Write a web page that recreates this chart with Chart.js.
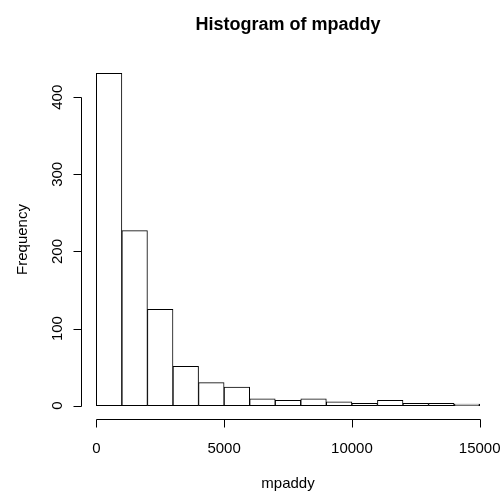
<!DOCTYPE html>
<html>
<head>
<meta charset="utf-8">
<script src="https://cdn.jsdelivr.net/npm/chart.js@4"></script>
<style>
  html, body { margin: 0; padding: 0; background: #ffffff; }
  #wrap { width: 502px; height: 492px; }
</style>
</head>
<body>
<div id="wrap"><canvas id="c" width="502" height="492"></canvas></div>
<script>
// Data
const binStarts = [0, 1000, 2000, 3000, 4000, 5000, 6000, 7000, 8000, 9000, 10000, 11000, 12000, 13000, 14000];
const binWidth = 1000;
const counts = [431, 227, 125, 51, 30, 24, 9, 7, 9, 5, 3, 7, 3, 3, 2];
const xTicks = [0, 5000, 10000, 15000];
const yTicks = [0, 100, 200, 300, 400];
const titleText = 'Histogram of mpaddy';
const xLabel = 'mpaddy';
const yLabel = 'Frequency';

const xMinData = binStarts[0];
const xMaxData = binStarts[binStarts.length - 1] + binWidth;
const yMaxData = Math.max(...counts);
const xPad = (xMaxData - xMinData) * 0.04;
const yPad = yMaxData * 0.04;

const barData = binStarts.map((s, i) => ({ x: s + binWidth / 2, y: counts[i] }));

const FONT = '"Liberation Sans", Arial, Helvetica, sans-serif';

const rAxes = {
  id: 'rAxes',
  afterDraw(chart) {
    const ctx = chart.ctx;
    const xs = chart.scales.x, ys = chart.scales.y;
    const area = chart.chartArea;
    ctx.save();
    ctx.strokeStyle = '#000';
    ctx.fillStyle = '#000';
    ctx.lineWidth = 1;
    // x axis
    const axY = Math.round(area.bottom) + 0.5;
    const x0 = Math.round(xs.getPixelForValue(xTicks[0])) + 0.5;
    const x1 = Math.round(xs.getPixelForValue(xTicks[xTicks.length - 1])) + 0.5;
    ctx.beginPath();
    ctx.moveTo(x0, axY); ctx.lineTo(x1, axY);
    xTicks.forEach(t => { const p = Math.round(xs.getPixelForValue(t)) + 0.5; ctx.moveTo(p, axY); ctx.lineTo(p, axY + 8); });
    ctx.stroke();
    ctx.font = '15px ' + FONT;
    ctx.textAlign = 'center';
    ctx.textBaseline = 'alphabetic';
    xTicks.forEach(t => ctx.fillText(String(t), xs.getPixelForValue(t), axY + 33.5));
    ctx.fillText(xLabel, (area.left + area.right) / 2, axY + 68.5);
    // y axis
    const axX = Math.round(area.left) + 0.5;
    const y0 = Math.round(ys.getPixelForValue(yTicks[0])) + 0.5;
    const y1 = Math.round(ys.getPixelForValue(yTicks[yTicks.length - 1])) + 0.5;
    ctx.beginPath();
    ctx.moveTo(axX, y0); ctx.lineTo(axX, y1);
    yTicks.forEach(t => { const p = Math.round(ys.getPixelForValue(t)) + 0.5; ctx.moveTo(axX, p); ctx.lineTo(axX - 8, p); });
    ctx.stroke();
    yTicks.forEach(t => {
      ctx.save();
      ctx.translate(axX - 19.5, ys.getPixelForValue(t));
      ctx.rotate(-Math.PI / 2);
      ctx.fillText(String(t), 0, 0);
      ctx.restore();
    });
    ctx.save();
    ctx.translate(axX - 55, (area.top + area.bottom) / 2);
    ctx.rotate(-Math.PI / 2);
    ctx.fillText(yLabel, 0, 0);
    ctx.restore();
    // title
    ctx.font = 'bold 18px ' + FONT;
    ctx.fillText(titleText, (area.left + area.right) / 2, 30);
    ctx.restore();
  }
};

new Chart(document.getElementById('c'), {
  type: 'bar',
  data: {
    datasets: [{
      label: yLabel,
      data: barData,
      backgroundColor: '#ffffff',
      borderColor: '#000000',
      borderWidth: 1,
      borderSkipped: false,
      barPercentage: 1.0,
      categoryPercentage: 1.0
    }]
  },
  options: {
    responsive: false,
    animation: false,
    devicePixelRatio: 1,
    layout: { padding: { left: 81, right: 7, top: 60, bottom: 73 } },
    plugins: { legend: { display: false }, title: { display: false }, tooltip: { enabled: false } },
    scales: {
      x: { type: 'linear', display: false, offset: false, min: xMinData - xPad, max: xMaxData + xPad },
      y: { type: 'linear', display: false, min: -yPad, max: yMaxData + yPad }
    }
  },
  plugins: [rAxes]
});
</script>
</body>
</html>
